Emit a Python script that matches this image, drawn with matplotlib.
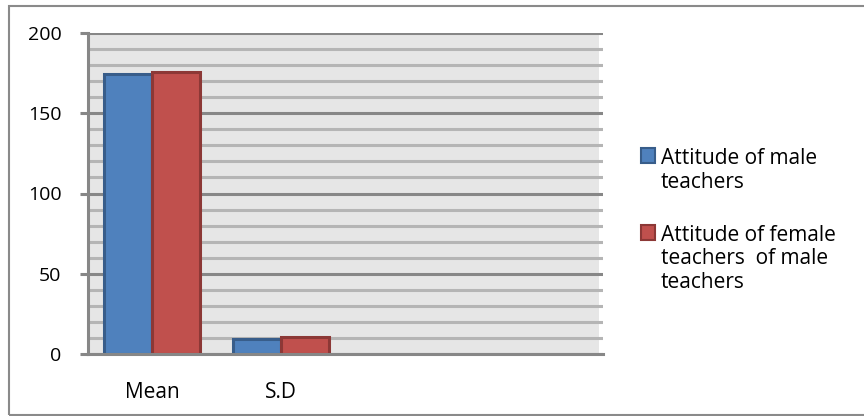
import matplotlib
matplotlib.use("Agg")
import matplotlib.pyplot as plt
from matplotlib.patches import Rectangle
import numpy as np

categories = ["Mean", "S.D", "", ""]
male = [174.5, 9.4]
female = [175.8, 10.7]
legend_labels = [["Attitude of male", "teachers"],
                 ["Attitude of female", "teachers  of male", "teachers"]]
yticks = [0, 50, 100, 150, 200]

W, H = 864, 416
plt.rcParams['font.family'] = ['Open Sans', 'DejaVu Sans']
fig = plt.figure(figsize=(W / 100, H / 100), dpi=100)
FS = 14
FS2 = 15

def fx(px):
    return px / W

def fy(py):
    return 1 - py / H

ax = fig.add_axes([fx(88), fy(354), fx(603) - fx(88), fy(33) - fy(354)])
ax.set_facecolor('none')
ax.add_patch(Rectangle((0, 0), (599 - 88) / (603 - 88), 1, transform=ax.transAxes,
                       facecolor='#e6e6e6', edgecolor='none', zorder=0))

x = np.arange(len(categories))
bw = 0.373
ax.bar(x[:len(male)] - bw / 2, male, bw, color='#4F81BD', edgecolor='#385D8A', linewidth=2.2, zorder=3)
ax.bar(x[:len(female)] + bw / 2, female, bw, color='#C0504D', edgecolor='#8C3836', linewidth=2.2, zorder=3)

ax.set_xlim(-0.5, len(categories) - 0.5)
ax.set_ylim(0, 200)
ax.set_yticks(yticks)
ax.set_yticks(np.arange(0, 201, 10), minor=True)
ax.grid(True, which='major', axis='y', color='#878787', linewidth=2.2, zorder=1)
ax.grid(True, which='minor', axis='y', color='#b5b5b5', linewidth=2.2, zorder=1)
ax.set_xticks(x)
ax.set_xticklabels(categories)
ax.tick_params(axis='x', length=0, pad=20, labelsize=FS2, labelcolor='black')
ax.tick_params(axis='y', which='major', length=6, width=2.2, color='#878787', pad=13, labelsize=FS)
ax.tick_params(axis='y', which='minor', length=0)
for s in ['top', 'right']:
    ax.spines[s].set_visible(False)
for s in ['left', 'bottom']:
    ax.spines[s].set_color('#878787')
    ax.spines[s].set_linewidth(2.2)
    ax.spines[s].set_zorder(4)

# Legend
colors = [('#4F81BD', '#385D8A'), ('#C0504D', '#8C3836')]
sq_y = [148, 225]
line_gap = 23.5
for (fc, ec), yy, lines in zip(colors, sq_y, legend_labels):
    fig.add_artist(Rectangle((fx(641), fy(yy + 15)), fx(14), fy(yy) - fy(yy + 15),
                             transform=fig.transFigure, facecolor=fc, edgecolor=ec, linewidth=1.5))
    for i, ln in enumerate(lines):
        fig.text(fx(661), fy(yy + 8 + i * line_gap), ln, ha='left', va='center_baseline',
                 fontsize=FS2, color='black')

# Outer border
fig.add_artist(Rectangle((fx(9), fy(415)), fx(1000), fy(6) - fy(415), transform=fig.transFigure,
                         facecolor='none', edgecolor='#8a8a8a', linewidth=1.5))

fig.savefig("out.png", dpi=100)
